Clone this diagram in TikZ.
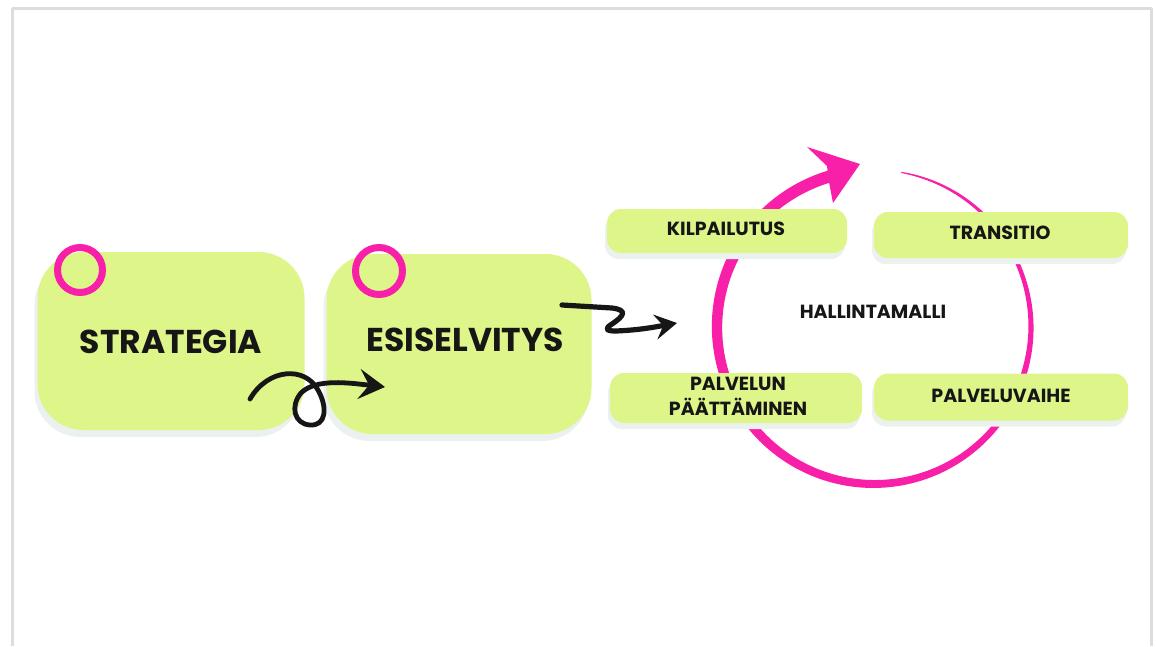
\documentclass[tikz,border=0pt]{standalone}
\usepackage{fontspec}
\setmainfont{Poppins}
\usetikzlibrary{arrows.meta}
\definecolor{lime}{RGB}{222,245,138}
\definecolor{shade}{RGB}{235,241,239}
\definecolor{hot}{RGB}{248,32,168}
\definecolor{framec}{RGB}{221,221,221}
\definecolor{ink}{RGB}{22,22,22}
\begin{document}
\begin{tikzpicture}[x=1pt,y=-1pt,line join=round,
  declare function={w(\t)=1+11*((80-\t)/329+0.001)^0.7;},
  bigbox/.style={fill=lime, rounded corners=46pt, inner sep=0pt,
    preaction={fill=shade, transform canvas={shift={(-3pt,-7pt)}}}},
  smallbox/.style={fill=lime, rounded corners=14pt, inner sep=0pt,
    preaction={fill=shade, transform canvas={shift={(-2pt,-6pt)}}}},
  bigtext/.style={text=ink, font=\bfseries\fontsize{33}{38}\selectfont, inner sep=0pt},
  smalltext/.style={text=ink, font=\bfseries\fontsize{19}{25}\selectfont, align=center, inner sep=0pt},
  ring/.style={circle, draw=hot, line width=7pt, minimum size=45pt, inner sep=0pt},
  curly/.style={draw=ink, line width=4.8pt, line cap=round},
]
\useasboundingbox (0,0) rectangle (1157,646);
\fill[white] (0,0) rectangle (1157,646);
\draw[framec, line width=3pt] (12,646) -- (12,8) -- (1151,8) -- (1151,646);

% big boxes
\node[bigbox, minimum width=267pt, minimum height=178pt] (strat) at (171,341) {};
\node[bigtext] (stratT) at (171,342) {STRATEGIA};
\node[bigbox, minimum width=265pt, minimum height=180pt] (esi) at (459,344) {};
\node[bigtext] (esiT) at (465,340) {ESISELVITYS};
\node[ring] (ring1) at (80,270) {};
\node[ring, minimum size=47pt] (ring2) at (379,271) {};

% loop arrow
\coordinate (la) at (250,399);
\coordinate (lb) at (385,387);
\draw[curly, -{Stealth[length=26pt,width=30pt,inset=10pt]}] (la) .. controls (268,368) and (305,366) .. (318,390) .. controls (328,408) and (326,426) .. (310,425) .. controls (294,424) and (290,406) .. (301,393) .. controls (316,378) and (350,383) .. (lb);

% squiggle arrow
\coordinate (sa) at (562,305);
\coordinate (sb) at (677,323);
\draw[curly, line width=5.2pt, -{Stealth[length=22pt,width=25pt,inset=8pt]}] (sa) -- (612,308) .. controls (628,310) and (624,316) .. (612,324) .. controls (604,329) and (606,331) .. (616,331) .. controls (640,330) and (655,327) .. (sb);

% cycle arc (tapering)
\fill[hot] plot[domain=80:-257,samples=200,variable=\t] ({874+(157+w(\t)/2)*cos(\t)},{327-(157+w(\t)/2)*sin(\t)})
  -- plot[domain=-257:80,samples=200,variable=\t] ({874+(157-w(\t)/2)*cos(\t)},{327-(157-w(\t)/2)*sin(\t)}) -- cycle;
\fill[hot] (807,147) -- (860,164) -- (833,203) -- (829,182) -- (827,166) -- cycle;

% small boxes
\node[smallbox, minimum width=240pt, minimum height=44pt] (kil) at (727,231) {};
\node[smalltext] (kilT) at (726,229) {KILPAILUTUS};
\node[smallbox, minimum width=254pt, minimum height=46pt] (tra) at (1001,235) {};
\node[smalltext] (traT) at (1000,233) {TRANSITIO};
\node[smallbox, minimum width=252pt, minimum height=50pt] (pal) at (736,398) {};
\node[smalltext] (palT) at (738,396) {PALVELUN\\PÄÄTTÄMINEN};
\node[smallbox, minimum width=254pt, minimum height=47pt] (pv) at (1001,397) {};
\node[smalltext] (pvT) at (1001,396) {PALVELUVAIHE};
\node[smalltext] (hal) at (873,312) {HALLINTAMALLI};
\end{tikzpicture}
\end{document}
